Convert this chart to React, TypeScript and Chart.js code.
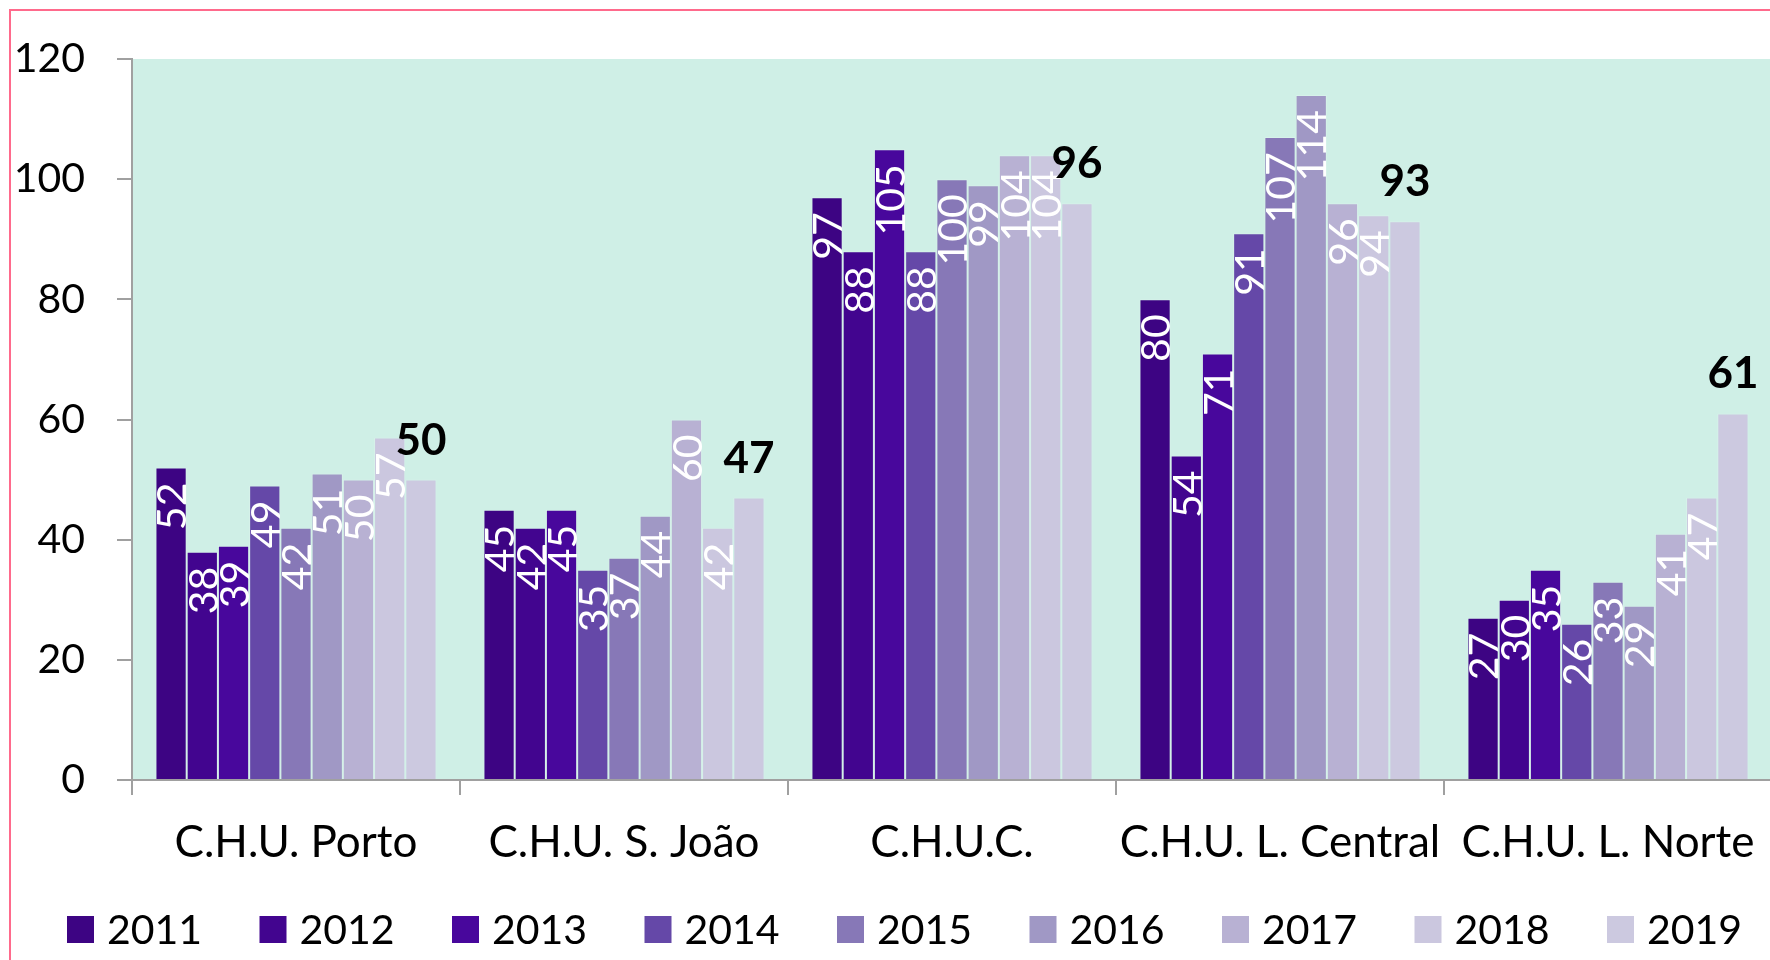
import React, { useEffect, useRef } from "react";
import { Chart, registerables } from "chart.js";

Chart.register(...registerables);

const categories = ["C.H.U. Porto", "C.H.U. S. João", "C.H.U.C.", "C.H.U. L. Central", "C.H.U. L. Norte"];
const years = ["2011", "2012", "2013", "2014", "2015", "2016", "2017", "2018", "2019"];

const v2011 = [52, 45, 97, 80, 27];
const v2012 = [38, 42, 88, 54, 30];
const v2013 = [39, 45, 105, 71, 35];
const v2014 = [49, 35, 88, 91, 26];
const v2015 = [42, 37, 100, 107, 33];
const v2016 = [51, 44, 99, 114, 29];
const v2017 = [50, 60, 104, 96, 41];
const v2018 = [57, 42, 104, 94, 47];
const v2019 = [50, 47, 96, 93, 61];

const seriesValues = [v2011, v2012, v2013, v2014, v2015, v2016, v2017, v2018, v2019];

const seriesColors = [
  "#3D0483",
  "#42058F",
  "#48079C",
  "#6548A8",
  "#8778B7",
  "#A098C5",
  "#B8B1D3",
  "#CBC7DF",
  "#CCC9E0",
];

const yMin = 0;
const yMax = 120;
const yStep = 20;

const FONT = "Lato, 'Open Sans', sans-serif";

const decorPlugin = {
  id: "decor",
  beforeDraw(chart: any) {
    const { ctx, chartArea } = chart;
    ctx.save();
    ctx.fillStyle = "#ffffff";
    ctx.fillRect(0, 0, chart.width, chart.height);
    ctx.fillStyle = "#CFEFE6";
    ctx.fillRect(chartArea.left, chartArea.top, chartArea.right - chartArea.left, chartArea.bottom - chartArea.top);
    ctx.fillStyle = "#FF6A8C";
    ctx.fillRect(9, 9, chart.width, 2);
    ctx.fillRect(9, 9, 2, chart.height);
    ctx.restore();
  },
  afterDatasetsDraw(chart: any) {
    const { ctx } = chart;
    const n = chart.data.datasets.length;
    chart.data.datasets.forEach((ds: any, di: number) => {
      const meta = chart.getDatasetMeta(di);
      meta.data.forEach((bar: any, i: number) => {
        const v = ds.data[i];
        const { x, y } = bar.getProps(["x", "y"], true);
        ctx.save();
        if (di === n - 1) {
          ctx.font = `bold 44px ${FONT}`;
          ctx.fillStyle = "#000000";
          ctx.textAlign = "center";
          ctx.textBaseline = "alphabetic";
          ctx.fillText(String(v), x, y - 25);
        } else {
          ctx.translate(x, y + 15);
          ctx.rotate(-Math.PI / 2);
          ctx.font = `41px ${FONT}`;
          ctx.fillStyle = "#ffffff";
          ctx.textAlign = "right";
          ctx.textBaseline = "middle";
          ctx.fillText(String(v), 0, 2);
        }
        ctx.restore();
      });
    });
  },
  afterDraw(chart: any) {
    const { ctx } = chart;
    ctx.save();
    chart.data.datasets.forEach((ds: any, i: number) => {
      const x = 67 + i * 192.5;
      ctx.fillStyle = ds.backgroundColor;
      ctx.fillRect(x, 916, 27, 27);
      ctx.fillStyle = "#000000";
      ctx.font = `41px ${FONT}`;
      ctx.textAlign = "left";
      ctx.textBaseline = "middle";
      ctx.fillText(ds.label, x + 40, 931);
    });
    ctx.restore();
  },
};

export default function App() {
  const canvasRef = useRef<HTMLCanvasElement | null>(null);

  useEffect(() => {
    let chart: Chart | null = null;
    let cancelled = false;
    const make = () => {
      if (cancelled || !canvasRef.current) return;
      chart = new Chart(canvasRef.current, {
        type: "bar",
        data: {
          labels: categories,
          datasets: years.map((yr, i) => ({
            label: yr,
            data: seriesValues[i],
            backgroundColor: seriesColors[i],
            borderColor: "rgba(255,255,255,0.18)",
            borderWidth: 1,
            categoryPercentage: 0.857,
            barPercentage: 1.0,
          })),
        },
        options: {
          animation: false,
          responsive: false,
          devicePixelRatio: 1,
          layout: { padding: { left: 0, top: 59, right: 18, bottom: 0 } },
          plugins: {
            legend: { display: false },
            tooltip: { enabled: false },
          },
          scales: {
            x: {
              grid: {
                display: true,
                drawOnChartArea: false,
                drawTicks: true,
                tickLength: 15,
                color: "#A0A0A0",
                lineWidth: 2,
                offset: true,
              },
              border: { display: true, color: "#A0A0A0", width: 2 },
              ticks: {
                color: "#000000",
                font: { family: FONT, size: 44 },
                padding: 21,
                maxRotation: 0,
                autoSkip: false,
              },
              afterFit: (scale: any) => {
                scale.height = 180;
              },
            },
            y: {
              min: yMin,
              max: yMax,
              grid: {
                display: true,
                drawOnChartArea: false,
                drawTicks: true,
                tickLength: 15,
                color: "#A0A0A0",
                lineWidth: 2,
              },
              border: { display: true, color: "#A0A0A0", width: 2 },
              ticks: {
                stepSize: yStep,
                color: "#000000",
                font: { family: FONT, size: 41 },
                padding: 32,
              },
              afterFit: (scale: any) => {
                scale.width = 132;
              },
            },
          },
        },
        plugins: [decorPlugin],
      });
    };
    const fontsApi: any = (document as any).fonts;
    if (fontsApi && fontsApi.load) {
      Promise.all([fontsApi.load(`38px Lato`), fontsApi.load(`bold 40px Lato`)])
        .catch(() => null)
        .then(make);
    } else {
      make();
    }
    return () => {
      cancelled = true;
      if (chart) chart.destroy();
    };
  }, []);

  return (
    <div style={{ position: "fixed", left: 0, top: 0, width: 1770, height: 960, overflow: "hidden", background: "#fff" }}>
      <canvas ref={canvasRef} width={1790} height={960} style={{ width: 1790, height: 960, display: "block" }} />
    </div>
  );
}
